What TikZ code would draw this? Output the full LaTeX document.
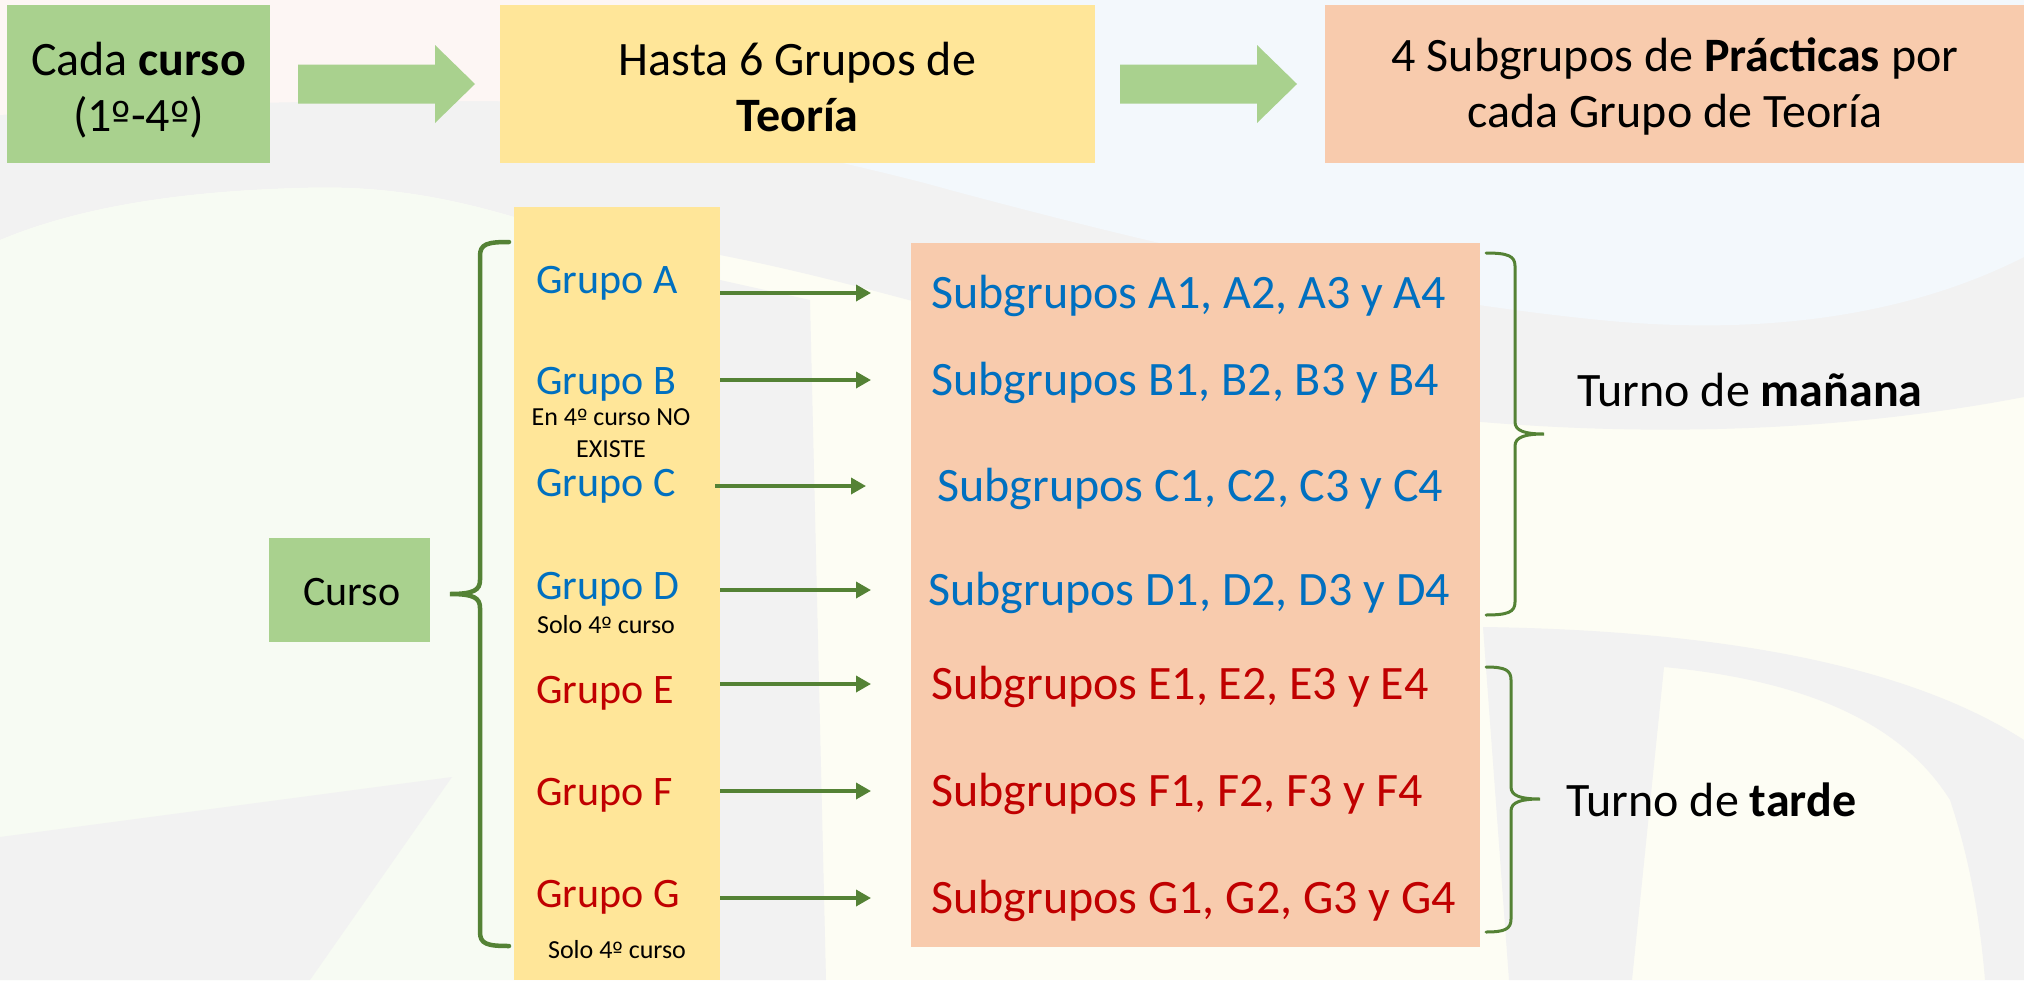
\documentclass[tikz,border=0pt]{standalone}
\usepackage{fontspec}
\setmainfont{Carlito}
\newfontfamily\ordfont{DejaVu Sans}
\newcommand\ordm{{\ordfont\fontsize{0.85em}{1em}\selectfont º}}
\usetikzlibrary{arrows.meta,calc}
\definecolor{boxgreen}{HTML}{A9D18E}
\definecolor{boxyellow}{HTML}{FFE699}
\definecolor{boxorange}{HTML}{F8CBAD}
\definecolor{txtblue}{HTML}{0070C0}
\definecolor{txtred}{HTML}{C00000}
\definecolor{lngreen}{HTML}{548235}
\definecolor{bgcream}{HTML}{FDFDF4}
\definecolor{bggreen}{HTML}{F7FBF3}
\definecolor{bggray}{HTML}{F2F2F2}
\definecolor{bgblue}{HTML}{F3F8FC}
\definecolor{bgpink}{HTML}{FDF6F4}
\newcommand\fbig{\fontsize{48}{56}\selectfont}
\newcommand\fmid{\fontsize{42}{50}\selectfont}
\newcommand\fsmall{\fontsize{26}{32}\selectfont}
\begin{document}
\begin{tikzpicture}[x=1pt,y=-1pt,
  box/.style={draw=none,inner sep=0pt,outer sep=0pt},
  bigtxt/.style={font=\fbig,inner sep=0pt,anchor=base},
  grp/.style={font=\fmid,inner sep=0pt,anchor=base west},
  small/.style={font=\fsmall,inner sep=0pt,anchor=base},
  sub/.style={font=\fbig,inner sep=0pt,text height=31pt,text depth=0pt,anchor=west},
  conn/.style={draw=lngreen,line width=3.5pt,-{Triangle[length=15pt,width=16pt]}},
  bracel/.style={draw=lngreen,line width=4.5pt,line cap=round},
  bracer/.style={draw=lngreen,line width=3pt,line cap=round},
  bigarrowfill/.style={fill=boxgreen}]
\useasboundingbox (0,0) rectangle (2024,980);
% background
\fill[bgcream] (0,0) rectangle (2024,980);
\fill[bggray] (0,0) -- (2024,0) -- (2024,397) .. controls (1800,440) and (1550,440) .. (1300,400)
  .. controls (1100,360) and (900,290) .. (720,255) .. controls (650,240) and (600,235) .. (540,225)
  .. controls (450,196) and (380,185) .. (300,188) .. controls (150,192) and (60,215) .. (0,240) -- cycle;
\fill[bggreen] (0,240) .. controls (60,215) and (150,192) .. (300,188) .. controls (380,185) and (450,196) .. (540,225)
  .. controls (600,235) and (650,240) .. (720,255) -- (720,980) -- (0,980) -- cycle;
\fill[bgpink] (0,0) -- (800,0) -- (800,110) .. controls (500,95) and (200,100) .. (0,115) -- cycle;
\fill[bgblue] (800,0) -- (2024,0) -- (2024,257) .. controls (1900,320) and (1750,335) .. (1600,320)
  .. controls (1350,295) and (1100,230) .. (950,190) .. controls (880,170) and (820,160) .. (800,150) -- cycle;
\fill[bggray] (720,280) -- (810,300) -- (826,980) -- (720,980) -- cycle;
\fill[bggray] (0,837) -- (452,777) -- (310,980) -- (0,980) -- cycle;
\fill[bggray,even odd rule] (1483,627) .. controls (1700,630) and (1900,660) .. (2024,740) -- (2024,980) -- (1509,980) -- cycle
  (1664,667) .. controls (1800,680) and (1900,720) .. (1950,800) .. controls (1970,860) and (1980,920) .. (1985,980) -- (1632,980) -- cycle;

% top row
\node[box,fill=boxgreen,minimum width=263pt,minimum height=158pt] (cada) at (138.5,84) {};
\node[box,fill=boxyellow,minimum width=595pt,minimum height=158pt] (teoria) at (797.5,84) {};
\node[box,fill=boxorange,minimum width=699pt,minimum height=158pt] (pract) at (1674.5,84) {};
\node[bigtxt] (cada1) at (138.5,75) {Cada \textbf{curso}};
\node[bigtxt] (cada2) at (138.5,131) {(1\ordm-4\ordm)};
\node[bigtxt] (teo1) at (797.5,75) {Hasta 6 Grupos de};
\node[bigtxt] (teo2) at (797.5,131) {\textbf{Teoría}};
\node[bigtxt] (pra1) at (1675,71) {4 Subgrupos de \textbf{Prácticas} por};
\node[bigtxt] (pra2) at (1675,127) {cada Grupo de Teoría};
\fill[bigarrowfill,shift={(cada.east)}] (28,-19.5) -- (165,-19.5) -- (165,-39) -- (205,0) -- (165,39) -- (165,19.5) -- (28,19.5) -- cycle;
\fill[bigarrowfill,shift={(teoria.east)}] (25,-19.5) -- (162,-19.5) -- (162,-39) -- (202,0) -- (162,39) -- (162,19.5) -- (25,19.5) -- cycle;

% lower part
\node[box,fill=boxyellow,minimum width=206pt,minimum height=773pt] (teocol) at (617,593.5) {};
\node[box,fill=boxorange,minimum width=569pt,minimum height=704pt] (subcol) at (1195.5,595) {};
\node[box,fill=boxgreen,minimum width=161pt,minimum height=104pt] (curso) at (349.5,590) {};
\node[font=\fmid,inner sep=0pt,anchor=base] (cursotxt) at (352,605) {Curso};

\node[grp,text=txtblue] (gA) at (536,293) {Grupo A};
\node[grp,text=txtblue] (gB) at (536,394) {Grupo B};
\node[small] (nB1) at (611,425) {En 4\ordm{} curso NO};
\node[small] (nB2) at (611,457) {EXISTE};
\node[grp,text=txtblue] (gC) at (536,496) {Grupo C};
\node[grp,text=txtblue] (gD) at (536,599) {Grupo D};
\node[small] (nD) at (606,633) {Solo 4\ordm{} curso};
\node[grp,text=txtred] (gE) at (536,703) {Grupo E};
\node[grp,text=txtred] (gF) at (536,805) {Grupo F};
\node[grp,text=txtred] (gG) at (536,907) {Grupo G};
\node[small] (nG) at (617,958) {Solo 4\ordm{} curso};

\node[sub,text=txtblue] (sA) at (931,293) {Subgrupos A1, A2, A3 y A4};
\node[sub,text=txtblue] (sB) at (931,380) {Subgrupos B1, B2, B3 y B4};
\node[sub,text=txtblue] (sC) at (937,486) {Subgrupos C1, C2, C3 y C4};
\node[sub,text=txtblue] (sD) at (928,590) {Subgrupos D1, D2, D3 y D4};
\node[sub,text=txtred] (sE) at (931,684) {Subgrupos E1, E2, E3 y E4};
\node[sub,text=txtred] (sF) at (931,791) {Subgrupos F1, F2, F3 y F4};
\node[sub,text=txtred] (sG) at (931,898) {Subgrupos G1, G2, G3 y G4};

\draw[conn] (teocol.east |- sA.west) -- ($(sA.west)+(-60,0)$);
\draw[conn] (teocol.east |- sB.west) -- ($(sB.west)+(-60,0)$);
\draw[conn] ($(teocol.east |- sC.west)+(-5,0)$) -- ($(sC.west)+(-71,0)$);
\draw[conn] (teocol.east |- sD.west) -- ($(sD.west)+(-57,0)$);
\draw[conn] (teocol.east |- sE.west) -- ($(sE.west)+(-60,0)$);
\draw[conn] (teocol.east |- sF.west) -- ($(sF.west)+(-60,0)$);
\draw[conn] (teocol.east |- sG.west) -- ($(sG.west)+(-60,0)$);

% braces
\draw[bracel] (509,242) .. controls (487,242) and (480,244) .. (480,256) -- (480,580)
  .. controls (480,590) and (474,594) .. (450,594) .. controls (474,594) and (480,598) .. (480,608)
  -- (480,932) .. controls (480,944) and (487,946) .. (509,946);
\draw[bracer] (1486,253) .. controls (1508,253) and (1515,256) .. (1515,266) -- (1515,422)
  .. controls (1515,431) and (1525,434) .. (1544,434) .. controls (1525,434) and (1515,437) .. (1515,446)
  -- (1515,602) .. controls (1515,612) and (1508,615) .. (1486,615);
\draw[bracer] (1486,667) .. controls (1505,667) and (1511,670) .. (1511,680) -- (1511,787)
  .. controls (1511,796) and (1521,799) .. (1540,799) .. controls (1521,799) and (1511,802) .. (1511,811)
  -- (1511,919) .. controls (1511,929) and (1505,932) .. (1486,932);
\node[bigtxt,anchor=base west] (man) at (1577,406) {Turno de \textbf{mañana}};
\node[bigtxt,anchor=base west] (tar) at (1566,816) {Turno de \textbf{tarde}};
\end{tikzpicture}
\end{document}
